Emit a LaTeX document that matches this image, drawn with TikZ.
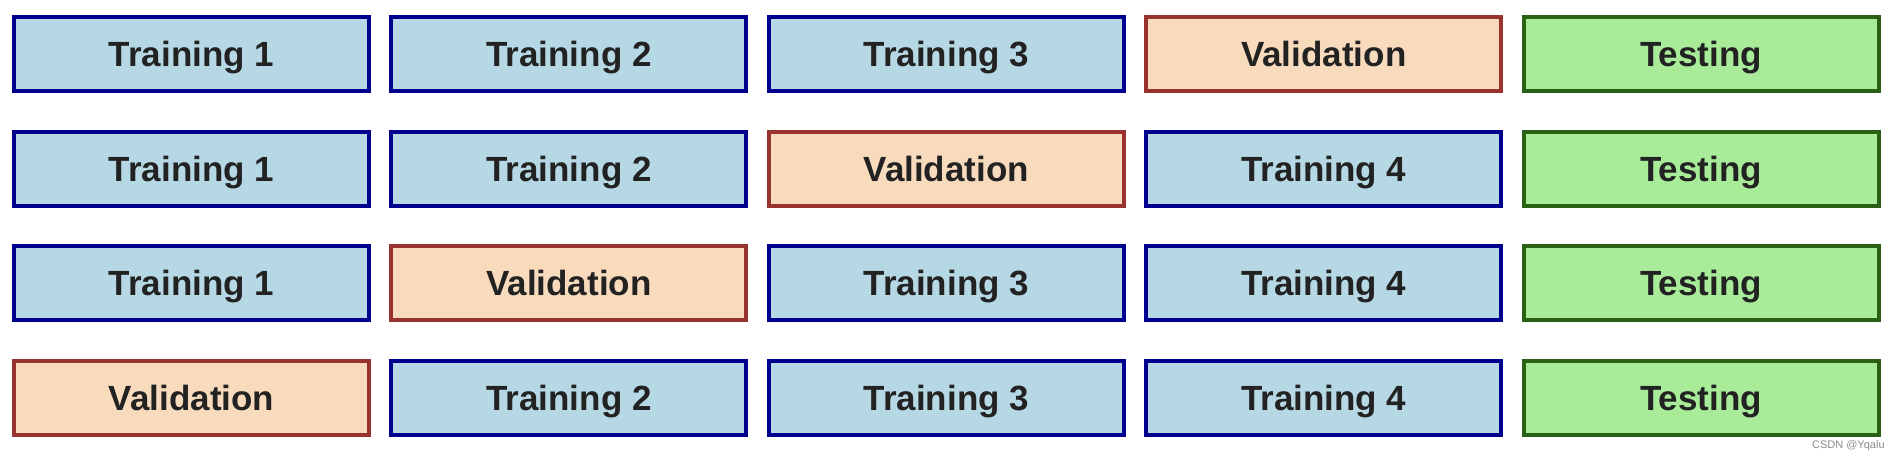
\documentclass[tikz,border=0pt]{standalone}
\usepackage{fontspec}
\setmainfont{Liberation Sans}
\definecolor{trfill}{HTML}{B6D8E4}
\definecolor{trdraw}{HTML}{00008F}
\definecolor{vafill}{HTML}{F8DBBD}
\definecolor{vadraw}{HTML}{993330}
\definecolor{tefill}{HTML}{A8EC9A}
\definecolor{tedraw}{HTML}{2A6116}
\definecolor{txt}{HTML}{222222}
\tikzset{
  fold/.style={rectangle, line width=2pt, inner sep=0pt,
    minimum width=177.5pt, minimum height=37pt,
    font=\fontsize{17.5}{20}\selectfont\bfseries, text=txt,
    text height=12.6pt, text depth=0pt},
  tr/.style={fold, fill=trfill, draw=trdraw},
  va/.style={fold, fill=vafill, draw=vadraw},
  te/.style={fold, fill=tefill, draw=tedraw},
}
\begin{document}
\begin{tikzpicture}[x=0.5pt,y=-0.5pt]
\useasboundingbox (0,0) rectangle (1900,460);
\def\cA{191.5}\def\cB{568.9}\def\cC{946.3}\def\cD{1323.7}\def\cE{1701}
\def\rA{54}\def\rB{168.7}\def\rC{283.3}\def\rD{398}
% row 1
\node[tr] (a1) at (\cA,\rA) {Training 1};
\node[tr] (a2) at (\cB,\rA) {Training 2};
\node[tr] (a3) at (\cC,\rA) {Training 3};
\node[va] (a4) at (\cD,\rA) {Validation};
\node[te] (a5) at (\cE,\rA) {Testing};
% row 2
\node[tr] (b1) at (\cA,\rB) {Training 1};
\node[tr] (b2) at (\cB,\rB) {Training 2};
\node[va] (b3) at (\cC,\rB) {Validation};
\node[tr] (b4) at (\cD,\rB) {Training 4};
\node[te] (b5) at (\cE,\rB) {Testing};
% row 3
\node[tr] (c1) at (\cA,\rC) {Training 1};
\node[va] (c2) at (\cB,\rC) {Validation};
\node[tr] (c3) at (\cC,\rC) {Training 3};
\node[tr] (c4) at (\cD,\rC) {Training 4};
\node[te] (c5) at (\cE,\rC) {Testing};
% row 4
\node[va] (d1) at (\cA,\rD) {Validation};
\node[tr] (d2) at (\cB,\rD) {Training 2};
\node[tr] (d3) at (\cC,\rD) {Training 3};
\node[tr] (d4) at (\cD,\rD) {Training 4};
\node[te] (d5) at (\cE,\rD) {Testing};
% watermark
\node[anchor=east, inner sep=0pt, font=\fontsize{5.5}{6}\selectfont, text=black!45] (wm) at (1885,446) {CSDN @Yqalu};
\end{tikzpicture}
\end{document}
